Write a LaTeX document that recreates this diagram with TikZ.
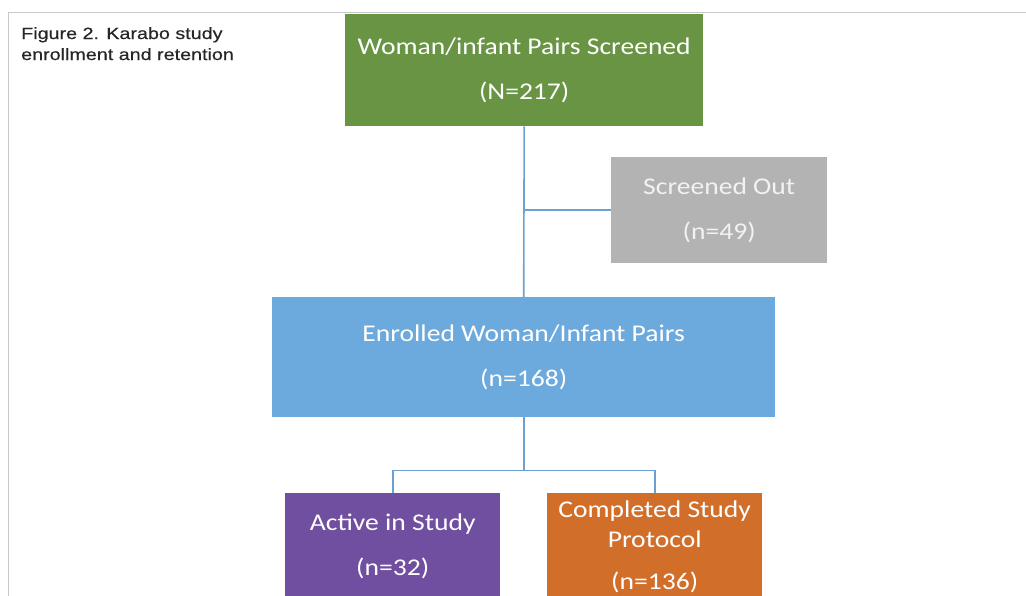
\documentclass[tikz,border=0pt]{standalone}
\usepackage{fontspec}
\usetikzlibrary{calc}
\newfontfamily\boxfont[FakeStretch=1.15]{Carlito}
\newfontfamily\titlefont[FakeStretch=1.21,FakeBold=0.4]{Liberation Sans}
\definecolor{cgreen}{RGB}{104,148,68}
\definecolor{cgray}{RGB}{179,179,179}
\definecolor{cblue}{RGB}{108,170,222}
\definecolor{cpurple}{RGB}{112,78,160}
\definecolor{corange}{RGB}{209,111,42}
\definecolor{cline}{RGB}{108,160,208}
\definecolor{cframe}{RGB}{200,200,200}
\begin{document}
\begin{tikzpicture}[x=1pt,y=-1pt,
  flowbox/.style={rectangle,draw=none,anchor=north west,inner sep=0pt,align=center,
    text=white,font=\boxfont\fontsize{24}{45}\selectfont},
  conn/.style={draw=cline,line width=1.6pt},
  framelines/.style={draw=cframe,line width=1.5pt}]
\useasboundingbox (0,0) rectangle (1026,595);
\clip (0,0) rectangle (1026,595);
\fill[white] (0,0) rectangle (1026,595);
\draw[framelines] (8.5,620) -- (8.5,12.5) -- (1040,12.5);
\node[anchor=north west,inner sep=0pt,align=left,text=black!85,
  font=\titlefont\fontsize{16.3}{21}\selectfont] (title) at (21,27) {Figure 2. Karabo study\\enrollment and retention};
\node[flowbox,fill=cgreen,minimum width=358,minimum height=112] (scr) at (345,14) {Woman/infant Pairs Screened\\(N=217)};
\node[flowbox,fill=cgray,minimum width=216,minimum height=106,text=white!95!black] (out) at (611,157) {Screened Out\\(n=49)};
\node[flowbox,fill=cblue,minimum width=503,minimum height=120] (enr) at (272,297) {Enrolled Woman/Infant Pairs\\(n=168)};
\node[flowbox,fill=cpurple,minimum width=215,minimum height=107] (act) at (285,493) {Active in Study\\(n=32)};
\node[flowbox,fill=corange,minimum width=215,minimum height=107,font=\boxfont\fontsize{24}{30}\selectfont] (comp) at (547,493) {Completed Study\\Protocol\\[12pt](n=136)};
\coordinate (j1) at (scr.south |- out.west);
\coordinate (j2) at ($(enr.south)+(0,53)$);
\draw[conn] (scr.south) -- (enr.north);
\draw[conn] (j1) -- (out.west);
\draw[conn] (enr.south) -- (j2);
\draw[conn] (act.north) |- (j2) -| (comp.north);
\end{tikzpicture}
\end{document}
